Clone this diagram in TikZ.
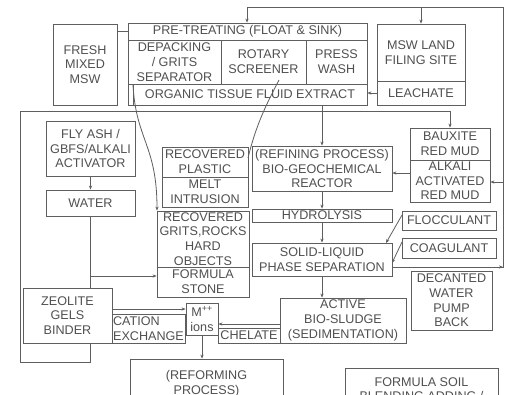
\documentclass[tikz,border=0pt]{standalone}
\usepackage{fontspec}
\setmainfont{Liberation Sans}
\usetikzlibrary{arrows.meta}
\definecolor{linec}{HTML}{5E5E5E}
\definecolor{textc}{HTML}{505050}
\newcommand\dfont{\fontsize{12.6}{14.7}\selectfont}
\tikzset{
  box/.style={draw=linec, line width=0.8pt, text=textc, align=center, inner sep=0pt, font=\dfont},
  conn/.style={draw=linec, line width=0.8pt},
  arr/.style={conn, -{Stealth[length=4pt,width=3.2pt]}}
}
\begin{document}
\begin{tikzpicture}[x=1pt,y=-1pt]
\useasboundingbox (0,0) rectangle (506,394);
\clip (0,0) rectangle (506,394);
\fill[white] (0,0) rectangle (506,394);
% top row
\node[box, minimum width=64, minimum height=81] (fresh) at (85,64.5) {FRESH\\MIXED\\MSW};
\node[box, minimum width=239, minimum height=82] (pre) at (247.5,64) {};
\node[box, minimum width=239, minimum height=17] (hdr) at (247.5,31.5) {PRE-TREATING (FLOAT \& SINK)};
\node[box, minimum width=93, minimum height=44] (depack) at (174.5,62) {DEPACKING\\/ GRITS\\SEPARATOR};
\node[box, minimum width=85, minimum height=44] (rotary) at (263.5,62) {ROTARY\\SCREENER};
\node[box, minimum width=61, minimum height=44] (press) at (336.5,62) {PRESS\\WASH};
\node[box, minimum width=234, minimum height=21] (organic) at (250,94.5) {ORGANIC TISSUE FLUID EXTRACT};
\node[box, minimum width=88, minimum height=57] (msw) at (421,52.5) {MSW LAND\\FILING SITE};
\node[box, minimum width=88, minimum height=24] (leachate) at (421,93) {LEACHATE};
% left column
\node[box, minimum width=89, minimum height=55] (flyash) at (90.5,148.5) {FLY ASH /\\GBFS/ALKALI\\ACTIVATOR};
\node[box, minimum width=89, minimum height=26] (water) at (90.5,203) {WATER};
\node[box, minimum width=89, minimum height=55] (zeolite) at (67.5,315.5) {ZEOLITE\\GELS\\BINDER};
\node[box, minimum width=73, minimum height=29, align=left] (cation) at (148.5,328.5) {CATION\\EXCHANGE};
\node[box, minimum width=32, minimum height=32] (mions) at (202,319) {M\textsuperscript{++}\\ions};
\node[box, minimum width=62, minimum height=15] (chelate) at (249,335.5) {CHELATE};
% middle column
\node[box, minimum width=86, minimum height=30] (plastic) at (205,162) {RECOVERED\\PLASTIC};
\node[box, minimum width=86, minimum height=30] (melt) at (205,192) {MELT\\INTRUSION};
\node[box, minimum width=92, minimum height=56] (grits) at (203,239) {RECOVERED\\GRITS,ROCKS\\HARD\\OBJECTS};
\node[box, minimum width=92, minimum height=30] (stone) at (203,282) {FORMULA\\STONE};
\node[box, minimum width=140, minimum height=45] (refining) at (322,168.5) {(REFINING PROCESS)\\BIO-GEOCHEMICAL\\REACTOR};
\node[box, minimum width=140, minimum height=13] (hydro) at (322,215.5) {HYDROLYSIS};
\node[box, minimum width=140, minimum height=33] (solid) at (322,259.5) {SOLID-LIQUID\\PHASE SEPARATION};
\node[box, minimum width=126, minimum height=45] (active) at (343,320.5) {ACTIVE\\BIO-SLUDGE\\(SEDIMENTATION)};
% right column
\node[box, minimum width=80, minimum height=32] (bauxite) at (450,144) {BAUXITE\\RED MUD};
\node[box, minimum width=80, minimum height=42] (alkali) at (450,181) {ALKALI\\ACTIVATED\\RED MUD};
\node[box, minimum width=94, minimum height=19] (floc) at (449,220.5) {FLOCCULANT};
\node[box, minimum width=94, minimum height=20] (coag) at (449,248) {COAGULANT};
\node[box, minimum width=81, minimum height=59] (decant) at (451.5,300.5) {DECANTED\\WATER\\PUMP\\BACK};
% bottom
\node[box, minimum width=153, minimum height=49] (reform) at (206.5,383.5) {(REFORMING\\PROCESS)};
\node[box, minimum width=153, minimum height=43, font=\fontsize{12.6}{14}\selectfont] (soil) at (421.5,389.5) {FORMULA SOIL\\BLENDING ADDING /};
% coordinates
\coordinate (tr) at (503,7);
\coordinate (tl) at (247,7);
\coordinate (sr) at (503,267);
\coordinate (j1) at (322,111);
\coordinate (lt) at (20,111);
\coordinate (lb) at (20,362);
\coordinate (zb) at (90,362);
\coordinate (br) at (90,276);
\coordinate (c1) at (112,309);
\coordinate (c2) at (280,324);
\coordinate (a1) at (410,173);
\coordinate (a2) at (503,182);
\coordinate (f1) at (402,215);
\coordinate (f2) at (386,243);
\coordinate (g1) at (402,242);
\coordinate (g2) at (392,263);
\coordinate (d1) at (133,85);
\coordinate (r1) at (279,80);
\coordinate (r2) at (248,158);
% connectors
\draw[conn] (fresh.east |- hdr.west) -- (hdr.west);
\draw[conn] (solid.east |- sr) -- (sr) -- (tr) -- (tl);
\draw[arr] (tl) -- (tl |- pre.north);
\draw[arr] (tr -| msw.north) -- (msw.north);
\draw[arr] (a2) -- (a2 -| alkali.east);
\draw[arr] (solid.east |- sr) -- (sr);
\draw[arr] (leachate.west) -- (leachate.west -| organic.east);
\draw[conn] (organic.south -| j1) -- (j1);
\draw[arr] (j1) -- (refining.north);
\draw[arr] (lt) -- (j1 -| bauxite.north) -- (bauxite.north);
\draw[conn] (lt) -- (lb) -- (zb) -- (zb |- zeolite.south);
\draw[arr] (flyash.south) -- (water.north);
\draw[conn] (water.south) -- (water.south |- zeolite.north);
\draw[arr] (br) -- (br -| stone.west);
\draw[arr] (c1) -- (c1 -| mions.west);
\draw[arr] (c2) -- (c2 -| mions.east);
\draw[arr] (mions.south) -- (mions.south |- reform.north);
\draw[arr] (refining.south) -- (hydro.north);
\draw[arr] (hydro.south) -- (solid.north);
\draw[arr] (solid.south) -- (solid.south |- active.north);
\draw[arr] (a1) -- (a1 -| refining.east);
\draw[arr] (f1) -- (f2);
\draw[arr] (g1) -- (g2);
\draw[arr] (d1) .. controls (136,140) and (157,145) .. (grits.north west -| 157,0);
\draw[conn] (r1) .. controls (266,105) and (256,125) .. (r2);
\end{tikzpicture}
\end{document}
